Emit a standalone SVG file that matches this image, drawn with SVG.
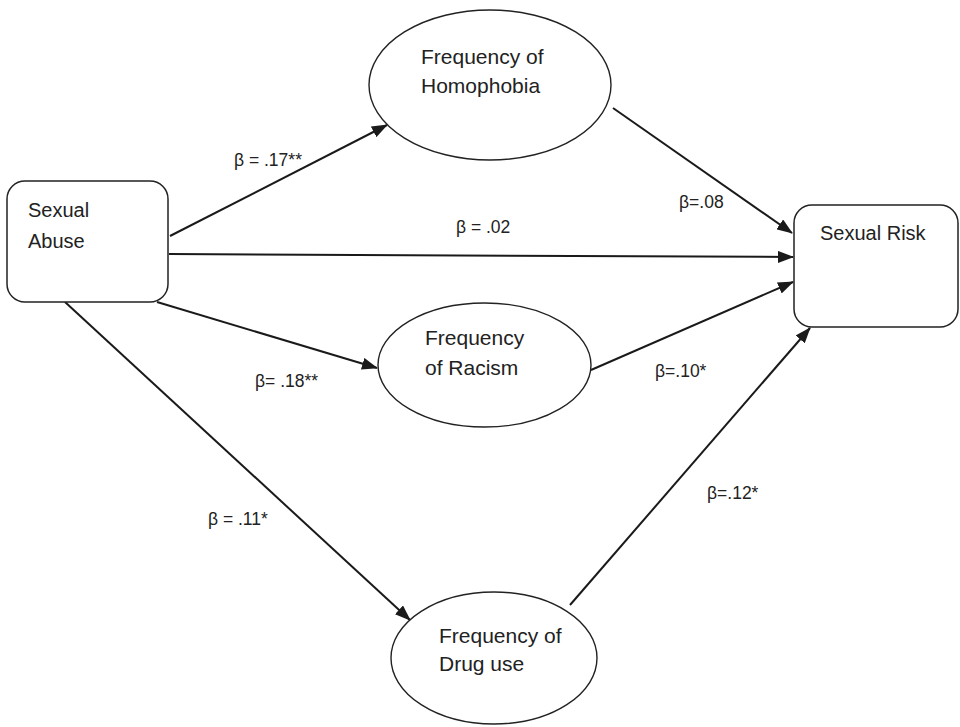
<svg xmlns="http://www.w3.org/2000/svg" width="960" height="727" viewBox="0 0 960 727">
<style>
.box{fill:#fff;stroke:#222;stroke-width:1.5}
.ell{fill:#fff;stroke:#222;stroke-width:1.4}
.nt{font-family:"Liberation Sans",Arial,sans-serif;font-size:20px;fill:#222}
.et{font-family:"Liberation Sans",Arial,sans-serif;font-size:21px;fill:#222}
.lb{font-family:"Liberation Sans",Arial,sans-serif;font-size:17.5px;fill:#222}
.ln{stroke:#1a1a1a;stroke-width:2;fill:none;marker-end:url(#ah)}
</style>
<defs>
<marker id="ah" markerUnits="userSpaceOnUse" markerWidth="16" markerHeight="12" refX="15" refY="6" orient="auto">
<path d="M0,0 L16,6 L0,12 z" fill="#1a1a1a"/>
</marker>
</defs>
<rect width="960" height="727" fill="#fff"/>
<g id="connectors">
<line class="ln" x1="170" y1="236" x2="387" y2="125"/>
<line class="ln" x1="169" y1="254" x2="793" y2="257"/>
<line class="ln" x1="613" y1="108" x2="792" y2="233"/>
<line class="ln" x1="591" y1="370" x2="793" y2="282"/>
<line class="ln" x1="570" y1="605" x2="810" y2="328"/>
<line class="ln" x1="157" y1="302" x2="377" y2="368"/>
<line class="ln" x1="65" y1="302" x2="410" y2="620"/>
</g>
<g id="labels">
<text class="lb" x="234" y="166">β = .17**</text>
<text class="lb" x="456" y="233">β = .02</text>
<text class="lb" x="679" y="208">β=.08</text>
<text class="lb" x="255" y="387">β= .18**</text>
<text class="lb" x="655" y="377">β=.10*</text>
<text class="lb" x="208" y="525">β = .11*</text>
<text class="lb" x="707" y="499">β=.12*</text>
</g>
<g id="sexual-abuse">
<rect class="box" x="7" y="181" width="161" height="121" rx="18"/>
<text class="nt" x="28" y="217">Sexual</text>
<text class="nt" x="28" y="248">Abuse</text>
</g>
<g id="sexual-risk">
<rect class="box" x="794" y="205" width="164" height="122" rx="18"/>
<text class="nt" x="820" y="240">Sexual Risk</text>
</g>
<g id="homophobia">
<ellipse class="ell" cx="490" cy="85" rx="121" ry="75"/>
<text class="et" x="421" y="64">Frequency of</text>
<text class="et" x="421" y="93">Homophobia</text>
</g>
<g id="racism">
<ellipse class="ell" cx="484.5" cy="365" rx="106.5" ry="62"/>
<text class="et" x="425" y="345">Frequency</text>
<text class="et" x="425" y="375">of Racism</text>
</g>
<g id="drug-use">
<ellipse class="ell" cx="494" cy="658" rx="103" ry="66"/>
<text class="et" x="439" y="643">Frequency of</text>
<text class="et" x="439" y="671">Drug use</text>
</g>
</svg>
